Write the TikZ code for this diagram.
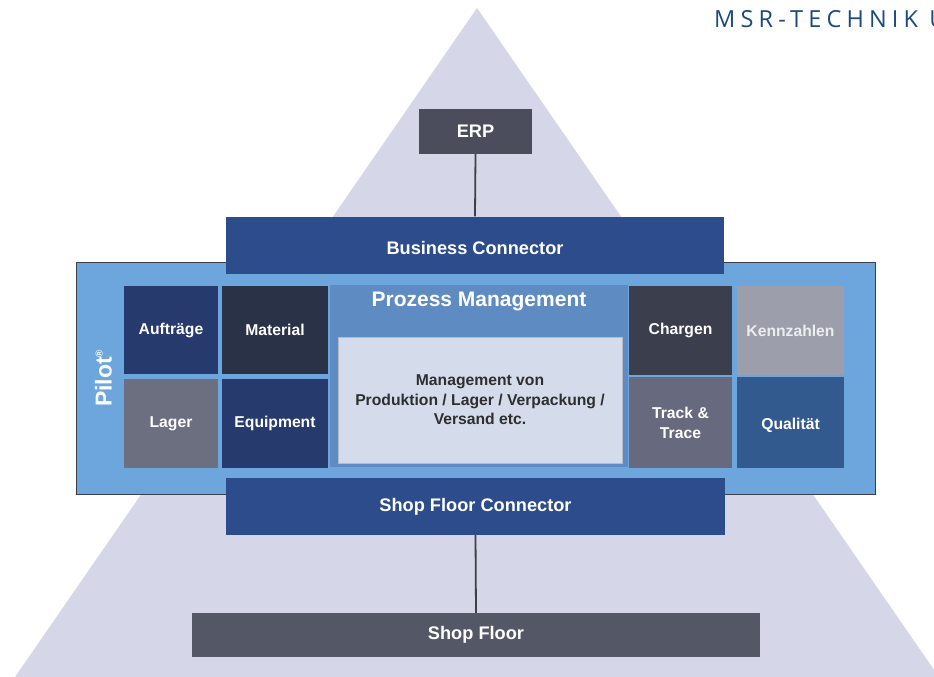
\documentclass[tikz,border=0pt]{standalone}
\usepackage{fontspec}
\setmainfont{Liberation Sans}
\newfontfamily\brandfont[LetterSpace=22]{Open Sans}
\newcommand{\lowered}[2]{\raisebox{-#1}[\height][\depth]{#2}}
\begin{document}
\definecolor{pyramid}{HTML}{D5D7E8}
\definecolor{brand}{HTML}{1B4A7E}
\definecolor{erpgray}{HTML}{4B4D5C}
\definecolor{connblue}{HTML}{2D4C8C}
\definecolor{pilotblue}{HTML}{6CA6DC}
\definecolor{navy}{HTML}{263A6E}
\definecolor{slate}{HTML}{2A3247}
\definecolor{midgray}{HTML}{6B6F80}
\definecolor{procblue}{HTML}{5E8BC2}
\definecolor{procinner}{HTML}{D4DCEC}
\definecolor{charcoal}{HTML}{3B3F4D}
\definecolor{lightgray}{HTML}{9C9FAB}
\definecolor{tracegray}{HTML}{676A7E}
\definecolor{qualblue}{HTML}{335A8E}
\definecolor{floorgray}{HTML}{545766}
\definecolor{linkgray}{HTML}{3E3F48}
\begin{tikzpicture}[x=1pt,y=-1pt,
  block/.style={rectangle, inner sep=0pt, align=center, text=white,
    font=\bfseries\fontsize{18.2}{21}\selectfont},
  cell/.style={rectangle, inner sep=0pt, align=center, text=white,
    font=\bfseries\fontsize{15.7}{19.5}\selectfont},
  link/.style={draw=linkgray, line width=1.8pt}]
  \useasboundingbox (0,0) rectangle (934,677);
  \clip (0,0) rectangle (934,677);

  % pyramid background
  \fill[pyramid] (477,8) -- (15,677) -- (939,677) -- cycle;

  % company lettering, running off the right edge
  \node[anchor=west, inner sep=0pt, text=brand,
        font=\brandfont\fontsize{23.5}{26}\selectfont] (brandname) at (714,19) {MSR-TECHNIK U};

  % Pilot frame
  \node[rectangle, draw=linkgray, line width=0.8pt, fill=pilotblue,
        minimum width=799, minimum height=232] (pilot) at (475.5,378) {};
  \node[rotate=90, text=white, font=\bfseries\fontsize{23}{25}\selectfont, inner sep=0pt]
        (pilotlabel) at (103.5,378) {Pilot\textsuperscript{\fontsize{10}{10}\selectfont\textregistered}};

  % top and bottom tiers
  \node[block, fill=erpgray, minimum width=113, minimum height=45] (erp) at (475.5,131.5) {ERP};
  \node[block, fill=connblue, minimum width=498, minimum height=57] (bc) at (475,245)
        {\lowered{2.5pt}{Business Connector}};
  \node[block, fill=connblue, minimum width=499, minimum height=57] (sfc) at (475.5,506.5) {Shop Floor Connector};
  \node[block, fill=floorgray, minimum width=568, minimum height=44] (sf) at (476,635) {Shop Floor};

  % left module cells
  \node[cell, fill=navy,    minimum width=94,  minimum height=88] (auftraege) at (171,330) {Aufträge};
  \node[cell, fill=slate,   minimum width=106, minimum height=88] (material)  at (275,330) {Material};
  \node[cell, fill=midgray, minimum width=94,  minimum height=89] (lager)     at (171,423.5) {Lager};
  \node[cell, fill=navy,    minimum width=106, minimum height=89] (equipment) at (275,423.5) {Equipment};

  % process management panel
  \node[rectangle, fill=procblue, minimum width=298, minimum height=182] (proc) at (479,376) {};
  \node[text=white, font=\bfseries\fontsize{21}{23}\selectfont, inner sep=0pt]
        (proctitle) at (479,301.5) {Prozess Management};
  \node[rectangle, fill=procinner, draw=procinner!85!black, line width=0.4pt,
        minimum width=284, minimum height=126, align=center, text=black!82,
        font=\bfseries\fontsize{15.7}{19.5}\selectfont, inner sep=0pt]
        (procbox) at (480,400) {Management von\\Produktion / Lager / Verpackung /\\Versand etc.};

  % right module cells
  \node[cell, fill=charcoal,  minimum width=103, minimum height=89] (chargen)    at (680.5,330.5) {Chargen};
  \node[cell, fill=lightgray, minimum width=107, minimum height=89, text=white!93!black] (kennzahlen) at (790.5,330.5) {Kennzahlen};
  \node[cell, fill=tracegray, minimum width=103, minimum height=91] (track)      at (680.5,422.5)
        {\lowered{2pt}{\begin{tabular}{@{}c@{}}Track \&\\Trace\end{tabular}}};
  \node[cell, fill=qualblue,  minimum width=107, minimum height=91] (qualitaet)  at (790.5,422.5)
        {\lowered{3pt}{Qualität}};

  % connectors between tiers
  \draw[link] (erp.south) -- (bc.north);
  \draw[link] (sfc.south) -- (sf.north);
\end{tikzpicture}
\end{document}
